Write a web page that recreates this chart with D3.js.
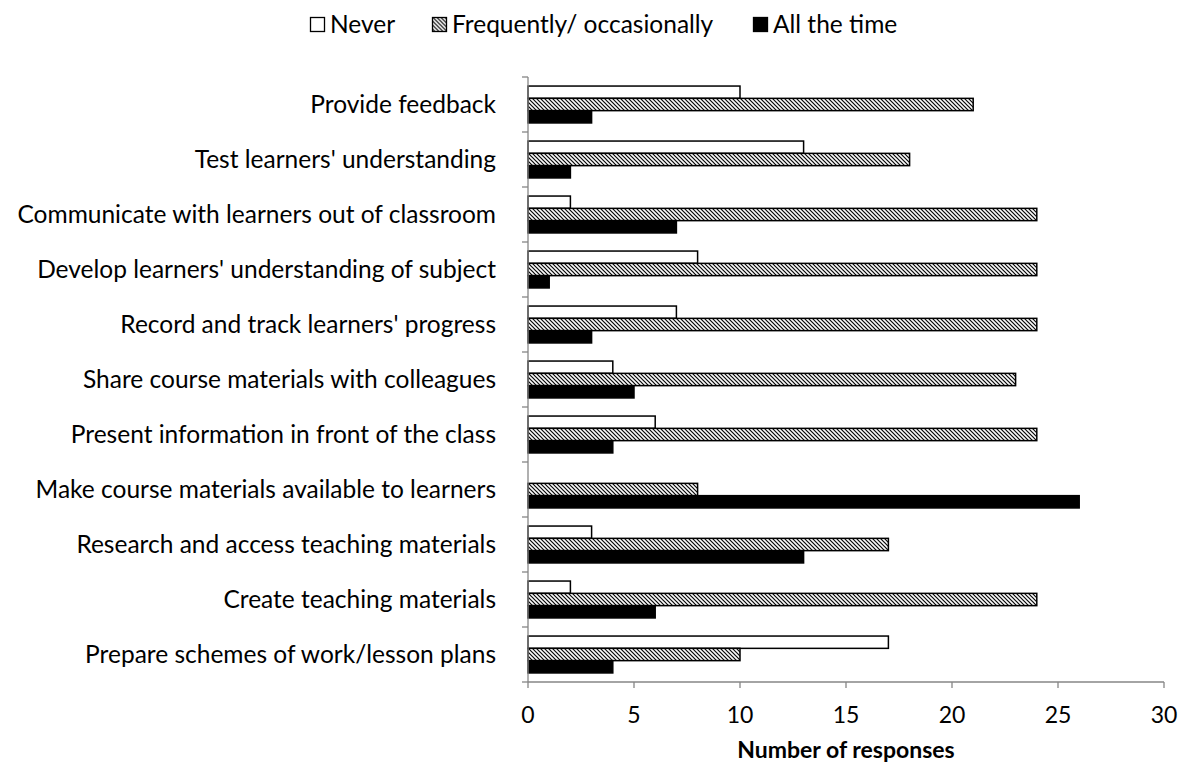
<!DOCTYPE html>
<html>
<head>
<meta charset="utf-8">
<script src="https://cdn.jsdelivr.net/npm/d3@7"></script>
<style>
  body { margin: 0; background: #fff; }
  text { font-family: Lato, "Open Sans", sans-serif; fill: #000; }
</style>
</head>
<body>
<div id="chart"></div>
<script>
// data, top to bottom as drawn
var tasks = [
  "Provide feedback",
  "Test learners' understanding",
  "Communicate with learners out of classroom",
  "Develop learners' understanding of subject",
  "Record and track learners' progress",
  "Share course materials with colleagues",
  "Present information in front of the class",
  "Make course materials available to learners",
  "Research and access teaching materials",
  "Create teaching materials",
  "Prepare schemes of work/lesson plans"
];
var series = ["Never", "Frequently/ occasionally", "All the time"];
var never      = [10, 13, 2, 8, 7, 4, 6, 0, 3, 2, 17];
var frequently = [21, 18, 24, 24, 24, 23, 24, 8, 17, 24, 10];
var allTime    = [3, 2, 7, 1, 3, 5, 4, 26, 13, 6, 4];
var xTicks = [0, 5, 10, 15, 20, 25, 30];

var W = 1180, H = 767;
var margin = {left: 528, right: 16, top: 77, bottom: 85};
var fontSize = "24.5px";

var svg = d3.select("#chart").append("svg")
  .attr("width", W).attr("height", H);

// hatch pattern
var defs = svg.append("defs");
var pat = defs.append("pattern")
  .attr("id", "hatch")
  .attr("patternUnits", "userSpaceOnUse")
  .attr("width", 4).attr("height", 4);
pat.append("rect").attr("width", 4).attr("height", 4).attr("fill", "#fff");
pat.append("path")
  .attr("d", "M-1,-1 L5,5 M-1,3 L1,5 M3,-1 L5,1")
  .attr("stroke", "#000").attr("stroke-width", 1.2);

var x = d3.scaleLinear().domain([0, 30]).range([margin.left, 1164]);
var y = d3.scaleBand().domain(tasks).range([margin.top, H - margin.bottom]);
var barH = 12.3;

var rows = tasks.map(function(t, i){
  return {task: t, vals: [never[i], frequently[i], allTime[i]]};
});
var fills = ["#fff", "url(#hatch)", "#000"];

var g = svg.selectAll(".row")
  .data(rows)
  .enter().append("g")
  .attr("class", "row")
  .attr("transform", function(d){ return "translate(0," + (y(d.task) + y.bandwidth() / 2 - barH * 1.5) + ")"; });

g.selectAll("rect")
  .data(function(d){ return d.vals; })
  .enter().append("rect")
  .attr("x", x(0))
  .attr("y", function(d, i){ return i * barH; })
  .attr("width", function(d){ return x(d) - x(0); })
  .attr("height", barH)
  .attr("fill", function(d, i){ return fills[i]; })
  .attr("stroke", function(d){ return d > 0 ? "#000" : "none"; })
  .attr("stroke-width", 1.5);

// y axis
var axisColor = "#868686";
svg.append("line")
  .attr("x1", x(0)).attr("x2", x(0))
  .attr("y1", margin.top).attr("y2", H - margin.bottom)
  .attr("stroke", axisColor).attr("stroke-width", 1.3);
var bounds = tasks.map(function(t){ return y(t); }).concat([H - margin.bottom]);
svg.selectAll(".ytick")
  .data(bounds)
  .enter().append("line")
  .attr("x1", x(0) - 6).attr("x2", x(0))
  .attr("y1", function(d){ return d; }).attr("y2", function(d){ return d; })
  .attr("stroke", axisColor).attr("stroke-width", 1.3);
svg.selectAll(".ylabel")
  .data(tasks)
  .enter().append("text")
  .attr("x", x(0) - 32)
  .attr("y", function(d){ return y(d) + y.bandwidth() / 2; })
  .attr("dy", "0.36em")
  .attr("text-anchor", "end")
  .style("font-size", fontSize)
  .text(function(d){ return d; });

// x axis
var xAxisY = H - margin.bottom;
svg.append("line")
  .attr("x1", x(0)).attr("x2", x(30))
  .attr("y1", xAxisY).attr("y2", xAxisY)
  .attr("stroke", axisColor).attr("stroke-width", 1.3);
svg.selectAll(".xtick")
  .data(xTicks)
  .enter().append("line")
  .attr("x1", function(d){ return x(d); }).attr("x2", function(d){ return x(d); })
  .attr("y1", xAxisY).attr("y2", xAxisY + 6)
  .attr("stroke", axisColor).attr("stroke-width", 1.3);
svg.selectAll(".xlabel")
  .data(xTicks)
  .enter().append("text")
  .attr("x", function(d){ return x(d); })
  .attr("y", 723)
  .attr("text-anchor", "middle")
  .style("font-size", "23px")
  .text(function(d){ return d; });

svg.append("text")
  .attr("x", (x(0) + x(30)) / 2)
  .attr("y", 758)
  .attr("text-anchor", "middle")
  .style("font-size", "23px")
  .style("font-weight", "bold")
  .text("Number of responses");

// legend
var legendX = [310, 432, 753];
var leg = svg.selectAll(".legend")
  .data(series)
  .enter().append("g")
  .attr("transform", function(d, i){ return "translate(" + legendX[i] + ",24.5)"; });
leg.append("rect")
  .attr("x", 0.5).attr("y", -7).attr("width", 14).attr("height", 14)
  .attr("fill", function(d, i){ return fills[i]; })
  .attr("stroke", "#000").attr("stroke-width", 1.3);
leg.append("text")
  .attr("x", 20).attr("y", 0).attr("dy", "0.36em")
  .style("font-size", fontSize)
  .text(function(d){ return d; });
</script>
</body>
</html>
